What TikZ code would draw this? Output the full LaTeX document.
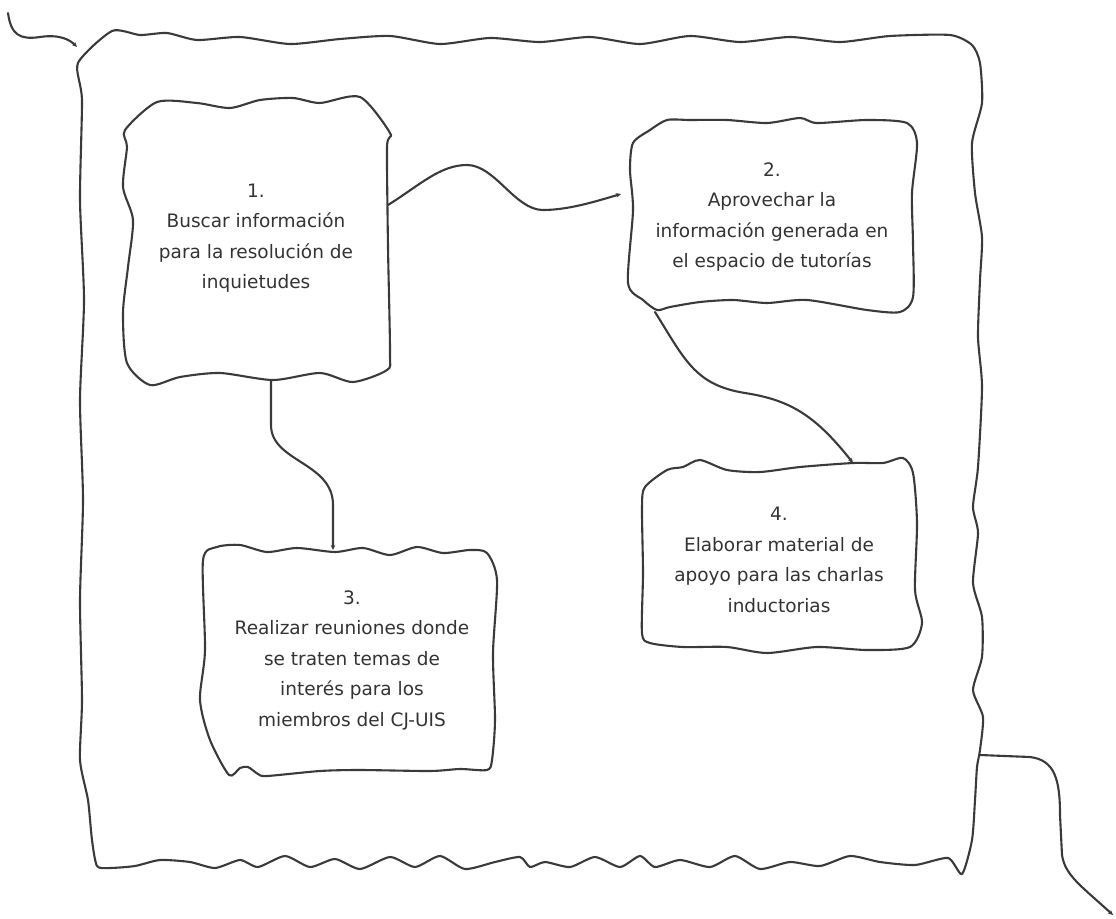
\documentclass[tikz,border=0pt]{standalone}
\usepackage{fontspec}
\setmainfont{DejaVu Sans}
\usetikzlibrary{arrows.meta}
\definecolor{ink}{HTML}{3A3A3A}
\definecolor{txt}{HTML}{333333}
\begin{document}
\begin{tikzpicture}[x=1pt,y=-1pt,
  sketch/.style={draw=ink, line width=2.1pt, line join=round, line cap=round},
  link/.style={sketch, -{Stealth[length=5pt,width=4.5pt]}},
  label/.style={text=txt, align=center, inner sep=0pt,
    font=\fontsize{18.5}{30.5}\selectfont}]
\useasboundingbox (0,0) rectangle (1116,918);

% ---- hand-drawn outlines ----
% outer frame
\draw[sketch] plot[smooth cycle, tension=0.4] coordinates {
  (78,63) (112,31) (140,35) (167,33) (197,40) (240,37) (290,44) (340,39)
  (390,36) (440,44) (490,38) (540,42) (590,37) (640,44) (690,36) (740,42)
  (790,37) (840,42) (890,36) (950,35) (972,45) (980,63) (982,103) (972,143)
  (975,193) (982,237) (980,280) (978,337) (982,387) (978,467) (973,507)
  (978,533) (973,583) (982,617) (982,657) (973,690) (983,717) (980,750)
  (977,767) (975,800) (972,840) (962,874) (948,858) (915,865) (880,862)
  (850,856) (820,866) (790,862) (760,869) (735,856) (710,867) (680,860)
  (655,867) (640,856) (620,867) (595,857) (570,867) (545,862) (530,867)
  (520,857) (495,862) (465,869) (440,856) (415,867) (390,857) (360,869)
  (335,859) (310,867) (285,856) (258,867) (240,860) (215,868) (190,862)
  (160,860) (135,866) (110,868) (97,866) (92,840) (88,800) (80,760)
  (82,700) (80,600) (83,500) (80,400) (84,300) (80,200) (82,100)};

% box 1
\draw[sketch] plot[smooth cycle, tension=0.45] coordinates {
  (125,130) (157,102) (197,103) (230,108) (260,100) (293,98) (320,103)
  (360,97) (390,133) (387,147) (388,247) (390,353) (387,370) (353,382)
  (320,373) (273,380) (220,373) (180,377) (150,385) (127,363) (123,313)
  (128,267) (133,220) (123,187) (127,147)};

% box 2
\draw[sketch] plot[smooth cycle, tension=0.45] coordinates {
  (650,130) (633,143) (630,170) (633,210) (628,283) (643,300) (657,310)
  (670,307) (700,302) (733,300) (767,303) (807,300) (867,310) (900,312)
  (913,297) (913,243) (912,193) (917,143) (907,123) (867,120) (817,123)
  (800,118) (767,123) (727,120) (690,120) (667,120)};

% box 3
\draw[sketch] plot[smooth cycle, tension=0.45] coordinates {
  (203,560) (217,547) (240,545) (267,552) (297,548) (335,552) (363,548)
  (390,555) (417,547) (443,553) (470,550) (487,553) (497,580) (493,653)
  (495,720) (492,760) (487,770) (460,769) (430,771) (360,770) (320,771)
  (267,776) (258,774) (248,767) (240,768) (229,775) (210,740) (200,700)
  (205,650)};

% box 4
\draw[sketch] plot[smooth cycle, tension=0.45] coordinates {
  (645,487) (667,470) (683,467) (700,460) (727,470) (760,472) (800,467)
  (853,463) (883,463) (903,458) (913,473) (917,523) (915,590) (922,623)
  (910,647) (867,650) (817,647) (767,653) (727,647) (683,647) (650,643)
  (642,633) (643,573) (642,507)};

% ---- texts ----
\node[label] (b1) at (256,238) {1.\\Buscar información\\para la resolución de\\inquietudes};
\node[label] (b2) at (772,217) {2.\\Aprovechar la\\información generada en\\el espacio de tutorías};
\node[label] (b3) at (352,660) {3.\\Realizar reuniones donde\\se traten temas de\\interés para los\\miembros del CJ-UIS};
\node[label] (b4) at (779,560) {4.\\Elaborar material de\\apoyo para las charlas\\inductorias};

% ---- ports on the outlines ----
\coordinate (start) at (8,13);
\coordinate (frame-in) at (77,47);
\coordinate (frame-out) at (980,755);
\coordinate (finish) at (1113,915);
\coordinate (b1-e) at (388,205);
\coordinate (b1-s) at (271,380);
\coordinate (b2-w) at (621,194);
\coordinate (b2-s) at (655,312);
\coordinate (b3-n) at (333,550);
\coordinate (b4-n) at (853,463);

% ---- connectors ----
\draw[link] (start) .. controls (11,35) and (20,40) .. (40,37)
  .. controls (60,34) and (70,40) .. (frame-in);
\draw[link] (b1-e) .. controls (420,185) and (440,165) .. (467,165)
  .. controls (495,165) and (515,210) .. (543,210)
  .. controls (570,210) and (600,200) .. (b2-w);
\draw[link] (b1-s) -- (271,425) .. controls (271,462) and (333,462) .. (333,505)
  -- (b3-n);
\draw[link] (b2-s) .. controls (685,360) and (695,385) .. (745,393)
  .. controls (790,400) and (815,415) .. (b4-n);
\draw[link] (frame-out) -- (1030,757) .. controls (1055,760) and (1060,780) .. (1060,815)
  -- (1062,855) .. controls (1065,875) and (1080,885) .. (finish);
\end{tikzpicture}
\end{document}
